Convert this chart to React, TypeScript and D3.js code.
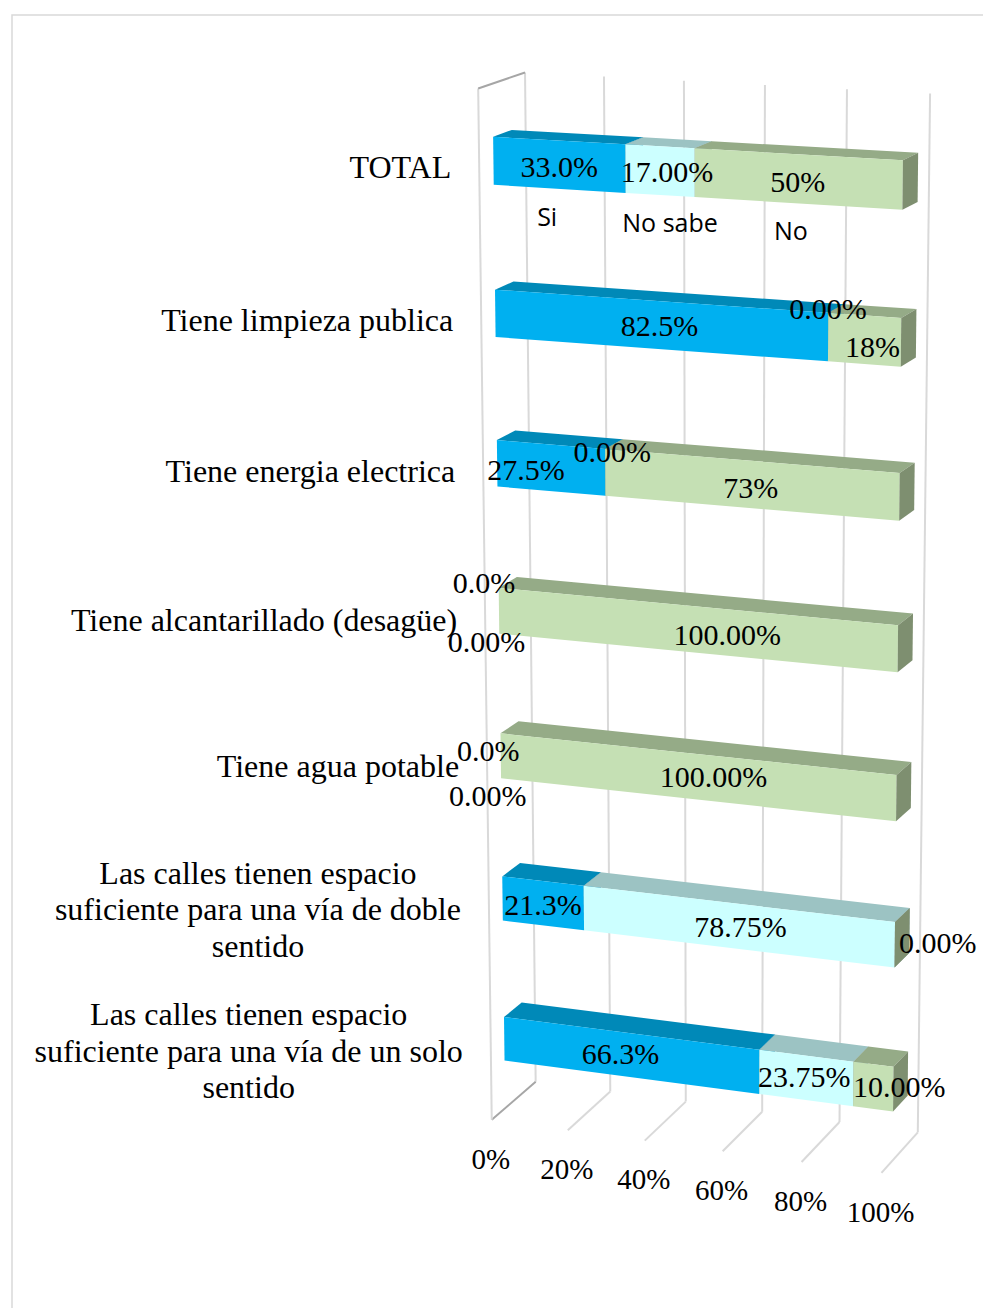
import React, { useEffect, useRef } from "react";
import * as d3 from "d3";

// ---------- DATA ----------
const categories: string[][] = [
  ["TOTAL"],
  ["Tiene limpieza publica"],
  ["Tiene energia electrica"],
  ["Tiene alcantarillado (desagüe)"],
  ["Tiene agua potable"],
  ["Las calles tienen espacio", "suficiente para una vía de doble", "sentido"],
  ["Las calles tienen espacio", "suficiente para una vía de un solo", "sentido"],
];
const seriesNames = ["Si", "No sabe", "No"];
const siValues = [33.0, 82.5, 27.5, 0, 0, 21.25, 66.25];
const noSabeValues = [17.0, 0, 0, 0, 0, 78.75, 23.75];
const noValues = [50, 17.5, 72.5, 100, 100, 0, 10];
const siLabels = ["33.0%", "82.5%", "27.5%", "0.0%", "0.0%", "21.3%", "66.3%"];
const noSabeLabels = ["17.00%", "0.00%", "0.00%", "0.00%", "0.00%", "78.75%", "23.75%"];
const noLabels = ["50%", "18%", "73%", "100.00%", "100.00%", "0.00%", "10.00%"];
const tickValues = [0, 20, 40, 60, 80, 100];
const tickLabels = ["0%", "20%", "40%", "60%", "80%", "100%"];

// ---------- LAYOUT (perspective anchors: [X, Y, Z] world -> [u, v] screen) ----------
const frameAnchors: number[][] = [
  [0, 1, 1, 525, 72.5], [0.2, 1, 1, 604.5, 76.7], [0.4, 1, 1, 683, 81], [0.6, 1, 1, 765, 85], [0.8, 1, 1, 847, 89], [1, 1, 1, 930.3, 93.3],
  [0, 0, 1, 535, 1081.7], [0.2, 0, 1, 609.5, 1091.7], [0.4, 0, 1, 687, 1102], [0.6, 0, 1, 763, 1112], [0.8, 0, 1, 839.5, 1121.7], [1, 0, 1, 917.3, 1131.7],
  [0, 1, 0, 478.3, 88.3], [0, 0, 0, 492.5, 1119.5], [0.2, 0, 0, 566.7, 1130], [0.4, 0, 0, 645, 1140], [0.6, 0, 0, 723, 1152], [0.8, 0, 0, 802, 1162], [1, 0, 0, 880.7, 1173.3],
];
const zFront = 0.3;
const zBack = 0.7;

// label nudges (px) relative to front-face centre of each segment
const labelDx = [
  [0, 0, -25, -15, -12.5, 0, -10],
  [7, 0, 7, -12.5, -13, 3, -2],
  [0, 8, 0, 32, 18, 43, 26],
];
const labelDy = [
  [2, 1, 2, -28, -4.5, 2, -1],
  [1, -28, -20, 31, 40.5, 1, -1],
  [3, 7, 4, 6, 0, -2, 0],
];
const seriesNameDx = [-12, 10, -7];

const seriesColors = [
  { front: "#00b0f0", top: "#0089b8", side: "#0079a3" },
  { front: "#ccffff", top: "#9cc3c3", side: "#88a8a8" },
  { front: "#c5e0b4", top: "#95ab87", side: "#7e8f70" },
];

const SERIF = "'Liberation Serif', 'Times New Roman', serif";
const SANS = "'Open Sans', 'Liberation Sans', sans-serif";

function solveProjection(pts: number[][]) {
  const cu = 700, su = 400, cv = 600, sv = 500;
  const n = 11;
  const M = Array.from({ length: n }, () => new Array(n + 1).fill(0));
  const add = (r: number[], b: number) => {
    for (let i = 0; i < n; i++) {
      for (let j = 0; j < n; j++) M[i][j] += r[i] * r[j];
      M[i][n] += r[i] * b;
    }
  };
  for (const [X, Y, Z, u0, v0] of pts) {
    const u = (u0 - cu) / su, v = (v0 - cv) / sv;
    add([X, Y, Z, 1, 0, 0, 0, 0, -u * X, -u * Y, -u * Z], u);
    add([0, 0, 0, 0, X, Y, Z, 1, -v * X, -v * Y, -v * Z], v);
  }
  for (let c = 0; c < n; c++) {
    let piv = c;
    for (let r = c + 1; r < n; r++) if (Math.abs(M[r][c]) > Math.abs(M[piv][c])) piv = r;
    [M[c], M[piv]] = [M[piv], M[c]];
    for (let r = 0; r < n; r++) {
      if (r === c) continue;
      const f = M[r][c] / M[c][c];
      for (let k = c; k <= n; k++) M[r][k] -= f * M[c][k];
    }
  }
  const p = M.map((row, i) => row[n] / row[i]);
  return (X: number, Y: number, Z: number): [number, number] => {
    const w = p[8] * X + p[9] * Y + p[10] * Z + 1;
    const u = (p[0] * X + p[1] * Y + p[2] * Z + p[3]) / w;
    const v = (p[4] * X + p[5] * Y + p[6] * Z + p[7]) / w;
    return [u * su + cu, v * sv + cv];
  };
}

export default function App() {
  const ref = useRef<SVGSVGElement>(null);
  useEffect(() => {
    const svg = d3.select(ref.current);
    svg.selectAll("*").remove();
    const P = solveProjection(frameAnchors);
    const xS = d3.scaleLinear().domain([0, 100]).range([0, 1]);
    const yS = d3.scaleBand<number>().domain(d3.range(categories.length)).range([1, 0]).paddingInner(0.6875).paddingOuter(0.34375);
    const line = d3.line();
    const poly = (pts: [number, number][]) => line(pts) + "Z";

    // frame
    svg.append("rect").attr("x", 12).attr("y", 15).attr("width", 1100).attr("height", 1400)
      .attr("fill", "#fff").attr("stroke", "#d9d9d9").attr("stroke-width", 1.5);

    const grid = svg.append("g").attr("fill", "none");
    tickValues.forEach((t) => {
      const X = xS(t);
      grid.append("path").attr("d", line([P(X, 0, 1), P(X, 1, 1)])).attr("stroke", "#d9d9d9").attr("stroke-width", 2);
      grid.append("path").attr("d", line([P(X, 0, 1), P(X, 0, 0)])).attr("stroke", t === 0 ? "#a6a6a6" : "#d9d9d9").attr("stroke-width", 2);
    });
    grid.append("path").attr("d", line([P(0, 0, 0), P(0, 1, 0)])).attr("stroke", "#d9d9d9").attr("stroke-width", 2);
    grid.append("path").attr("d", line([P(0, 1, 0), P(0, 1, 1)])).attr("stroke", "#a6a6a6").attr("stroke-width", 2);

    // bars
    const series = [siValues, noSabeValues, noValues];
    const seriesLabels = [siLabels, noSabeLabels, noLabels];
    const bars = svg.append("g");
    const names = svg.append("g").attr("font-family", SANS).attr("font-size", 25).attr("text-anchor", "middle").attr("fill", "#000");
    const labels = svg.append("g").attr("font-family", SERIF).attr("font-size", 30).attr("fill", "#000").attr("text-anchor", "middle");
    categories.forEach((_, ci) => {
      const y0 = yS(ci)!;
      const y1 = y0 + yS.bandwidth();
      let acc = 0;
      series.forEach((vals, si) => {
        const a = acc, b = acc + vals[ci];
        acc = b;
        const x0 = xS(a), x1 = xS(b);
        const col = seriesColors[si];
        if (b > a) {
          bars.append("path").attr("d", poly([P(x0, y1, zFront), P(x1, y1, zFront), P(x1, y1, zBack), P(x0, y1, zBack)])).attr("fill", col.top);
          bars.append("path").attr("d", poly([P(x0, y1, zFront), P(x1, y1, zFront), P(x1, y0, zFront), P(x0, y0, zFront)])).attr("fill", col.front);
        }
        if (b > a || b >= 100) {
          bars.append("path").attr("d", poly([P(x1, y1, zFront), P(x1, y1, zBack), P(x1, y0, zBack), P(x1, y0, zFront)])).attr("fill", col.side);
        }
        const [cx, cy] = P((x0 + x1) / 2, (y0 + y1) / 2, zFront);
        labels.append("text").attr("x", cx + labelDx[si][ci]).attr("y", cy + labelDy[si][ci] + 10).text(seriesLabels[si][ci]);
        if (ci === 0) {
          names.append("text").attr("x", cx + seriesNameDx[si]).attr("y", cy + 53 + 8.5).text(seriesNames[si]);
        }
      });
    });
    labels.raise();

    // category labels
    const catG = svg.append("g").attr("font-family", SERIF).attr("font-size", 32).attr("fill", "#000");
    categories.forEach((lines, ci) => {
      const yc = yS(ci)! + yS.bandwidth() / 2;
      const [ax, ay] = P(0, yc, 0);
      const right = ax - 28;
      const texts = lines.map((l, li) =>
        catG.append("text").attr("y", ay + 1 + (li - (lines.length - 1) / 2) * 36.5 + 10.6).text(l)
      );
      const widths = texts.map((t) => (t.node() as SVGTextElement).getComputedTextLength());
      const maxW = d3.max(widths)!;
      texts.forEach((t) => t.attr("text-anchor", "middle").attr("x", right - maxW / 2));
    });

    // tick labels
    const tickG = svg.append("g").attr("font-family", SERIF).attr("font-size", 29).attr("fill", "#000").attr("text-anchor", "middle");
    tickValues.forEach((t, i) => {
      const [x, y] = P(xS(t), 0, 0);
      tickG.append("text").attr("x", x - 1).attr("y", y + 39 + 9.7).text(tickLabels[i]);
    });
  }, []);
  return <svg ref={ref} width={983} height={1308} style={{ position: "absolute", left: 0, top: 0, background: "#fff" }} />;
}
